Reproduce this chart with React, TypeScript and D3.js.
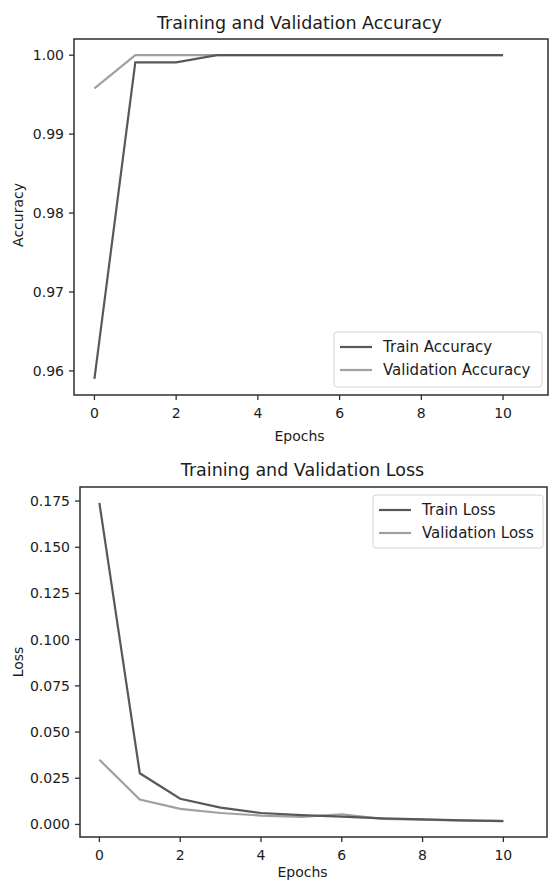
import React from 'react'
import * as d3 from 'd3'

const epochs = [0, 1, 2, 3, 4, 5, 6, 7, 8, 9, 10]
const trainAcc = [0.959, 0.9991, 0.9991, 1.0, 1.0, 1.0, 1.0, 1.0, 1.0, 1.0, 1.0]
const valAcc = [0.9958, 1.0, 1.0, 1.0, 1.0, 1.0, 1.0, 1.0, 1.0, 1.0, 1.0]
const trainLoss = [0.174, 0.0277, 0.0139, 0.0091, 0.0062, 0.005, 0.0042, 0.0033, 0.0027, 0.0022, 0.0018]
const valLoss = [0.035, 0.0135, 0.0084, 0.0062, 0.0048, 0.0041, 0.0055, 0.003, 0.0026, 0.0021, 0.0019]
const xTicks = [0, 2, 4, 6, 8, 10]
const accTicks = [0.96, 0.97, 0.98, 0.99, 1.0]
const lossTicks = [0.0, 0.025, 0.05, 0.075, 0.1, 0.125, 0.15, 0.175]

const FONT = '"DejaVu Sans", sans-serif'
const TRAIN_COLOR = '#585858'
const VAL_COLOR = '#a0a0a0'
const AXIS_COLOR = '#2e2e2e'
const TEXT_COLOR = '#1c1c1c'

type PanelProps = {
  title: string
  yLabel: string
  train: number[]
  val: number[]
  trainName: string
  valName: string
  yTicks: number[]
  yFormat: string
  xDomain: [number, number]
  yDomain: [number, number]
  box: { left: number; right: number; top: number; bottom: number }
  titleY: number
  yLabelY: number
  xLabelY: number
  legend: { x: number; y: number; w: number; h: number }
}

function Panel(p: PanelProps) {
  const x = d3.scaleLinear().domain(p.xDomain).range([p.box.left, p.box.right])
  const y = d3.scaleLinear().domain(p.yDomain).range([p.box.bottom, p.box.top])
  const fmt = d3.format(p.yFormat)
  const line = d3
    .line<number>()
    .x((_, i) => x(epochs[i]))
    .y((d) => y(d))
  const cx = (p.box.left + 525) / 2
  const lg = p.legend

  return (
    <g fontFamily={FONT}>
      <text x={cx} y={p.titleY} textAnchor="middle" fontSize={17.5} fill={TEXT_COLOR}>
        {p.title}
      </text>
      <path d={line(p.val) || ''} fill="none" stroke={VAL_COLOR} strokeWidth={2.2} />
      <path d={line(p.train) || ''} fill="none" stroke={TRAIN_COLOR} strokeWidth={2.2} />
      <rect
        x={p.box.left}
        y={p.box.top}
        width={p.box.right - p.box.left}
        height={p.box.bottom - p.box.top}
        fill="none"
        stroke={AXIS_COLOR}
        strokeWidth={1.5}
      />
      {xTicks.map((t) => (
        <g key={t}>
          <line x1={x(t)} x2={x(t)} y1={p.box.bottom} y2={p.box.bottom + 5} stroke={AXIS_COLOR} strokeWidth={1.3} />
          <text x={x(t)} y={p.box.bottom + 23} textAnchor="middle" fontSize={14} fill={TEXT_COLOR}>
            {t}
          </text>
        </g>
      ))}
      {p.yTicks.map((t) => (
        <g key={t}>
          <line x1={p.box.left - 5} x2={p.box.left} y1={y(t)} y2={y(t)} stroke={AXIS_COLOR} strokeWidth={1.3} />
          <text x={p.box.left - 10} y={y(t) + 5} textAnchor="end" fontSize={14} fill={TEXT_COLOR}>
            {fmt(t)}
          </text>
        </g>
      ))}
      <text x={cx} y={p.xLabelY} textAnchor="middle" fontSize={14} fill={TEXT_COLOR}>
        Epochs
      </text>
      <text
        transform={`translate(23,${p.yLabelY}) rotate(-90)`}
        textAnchor="middle"
        fontSize={14}
        fill={TEXT_COLOR}
      >
        {p.yLabel}
      </text>
      <rect x={lg.x} y={lg.y} width={lg.w} height={lg.h} rx={3} fill="#fff" fillOpacity={0.8} stroke="#d4d4d4" />
      <line x1={lg.x + 6} x2={lg.x + 38} y1={lg.y + 15} y2={lg.y + 15} stroke={TRAIN_COLOR} strokeWidth={2.2} />
      <line x1={lg.x + 6} x2={lg.x + 38} y1={lg.y + 38} y2={lg.y + 38} stroke={VAL_COLOR} strokeWidth={2.2} />
      <text x={lg.x + 49} y={lg.y + 20} fontSize={15} fill={TEXT_COLOR}>
        {p.trainName}
      </text>
      <text x={lg.x + 49} y={lg.y + 43} fontSize={15} fill={TEXT_COLOR}>
        {p.valName}
      </text>
    </g>
  )
}

export default function App() {
  return (
    <svg
      width={550}
      height={881}
      style={{ position: 'absolute', left: 0, top: 0, background: '#fff' }}
    >
      <Panel
        title="Training and Validation Accuracy"
        yLabel="Accuracy"
        train={trainAcc}
        val={valAcc}
        trainName="Train Accuracy"
        valName="Validation Accuracy"
        yTicks={accTicks}
        yFormat=".2f"
        xDomain={[-0.5, 11.1]}
        yDomain={[0.95695, 1.00205]}
        box={{ left: 74, right: 548, top: 39, bottom: 395 }}
        titleY={29}
        yLabelY={215}
        xLabelY={441}
        legend={{ x: 334, y: 332, w: 208, h: 55 }}
      />
      <Panel
        title="Training and Validation Loss"
        yLabel="Loss"
        train={trainLoss}
        val={valLoss}
        trainName="Train Loss"
        valName="Validation Loss"
        yTicks={lossTicks}
        yFormat=".3f"
        xDomain={[-0.48, 11.08]}
        yDomain={[-0.0068, 0.1826]}
        box={{ left: 80, right: 547, top: 487, bottom: 837 }}
        titleY={476}
        yLabelY={662}
        xLabelY={877}
        legend={{ x: 373, y: 495, w: 170, h: 53 }}
      />
    </svg>
  )
}
